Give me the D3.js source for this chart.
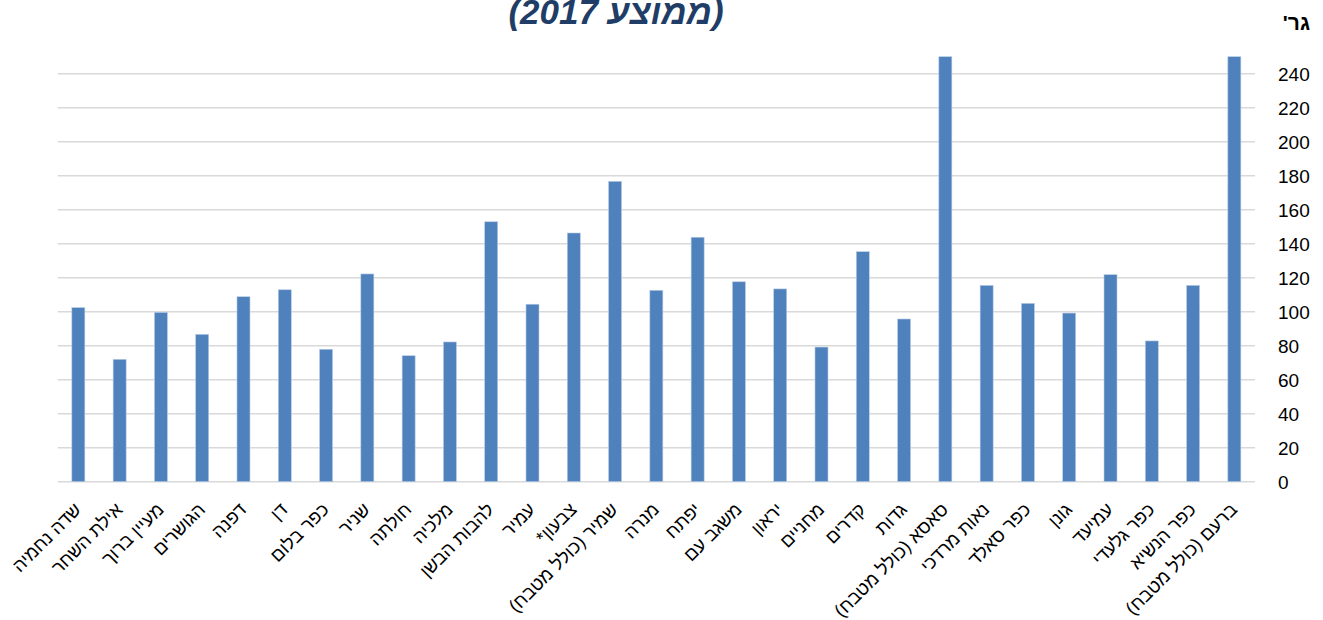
<!DOCTYPE html>
<html lang="he">
<head>
<meta charset="utf-8">
<script src="https://cdn.jsdelivr.net/npm/d3@7"></script>
<style>
  body { margin: 0; background: #fff; position: relative; }
  svg { display: block; }
</style>
</head>
<body>
<svg id="chart"></svg>
<script>
const categories = [
  "שדה נחמיה", "אילת השחר", "מעיין ברוך", "הגושרים", "דפנה", "דן", "כפר בלום",
  "שניר", "חולתה", "מלכיה", "להבות הבשן", "עמיר", "צבעון*", "שמיר (כולל מטבח)",
  "מנרה", "יפתח", "משגב עם", "יראון", "מחניים", "קדרים", "גדות",
  "סאסא (כולל מטבח)", "נאות מרדכי", "כפר סאלד", "גונן", "עמיעד", "כפר גלעדי",
  "כפר הנשיא", "ברעם (כולל מטבח)"
];
const values = [
  102.4, 72, 99.6, 86.7, 108.8, 112.9, 77.9,
  122.2, 74.1, 82.2, 152.9, 104.4, 146.3, 176.7,
  112.6, 143.8, 117.6, 113.4, 79.2, 135.3, 95.7,
  250, 115.5, 104.9, 99.2, 121.8, 82.8,
  115.5, 250
];
const yTicks = [0, 20, 40, 60, 80, 100, 120, 140, 160, 180, 200, 220, 240];
const title = "(ממוצע 2017)";
const unitLabel = "גר'";

const W = 1323, H = 620;
const margin = { top: 56.7, bottom: 138.3, left: 57.7, right: 68 };

const svg = d3.select("#chart").attr("width", W).attr("height", H);

const x = d3.scaleBand()
  .domain(categories)
  .range([margin.left, W - margin.right])
  .paddingInner(0.685)
  .paddingOuter(0.3425);

const y = d3.scaleLinear()
  .domain([0, 250])
  .range([H - margin.bottom, margin.top]);

// gridlines
svg.append("g")
  .selectAll("line")
  .data(yTicks)
  .join("line")
  .attr("x1", margin.left)
  .attr("x2", W - margin.right)
  .attr("y1", (d) => y(d))
  .attr("y2", (d) => y(d))
  .attr("stroke", "#d9d9d9")
  .attr("stroke-width", 1.6);

// bars
svg.append("g")
  .selectAll("rect")
  .data(values)
  .join("rect")
  .attr("x", (d, i) => x(categories[i]))
  .attr("y", (d) => y(d))
  .attr("width", x.bandwidth())
  .attr("height", (d) => y(0) - y(d))
  .attr("fill", "#4f81bd")
  .attr("stroke", "#b9cde5")
  .attr("stroke-width", 0.6);

// right axis labels
svg.append("g")
  .selectAll("text")
  .data(yTicks)
  .join("text")
  .attr("x", W - margin.right + 23)
  .attr("y", (d) => y(d))
  .attr("dy", "0.36em")
  .attr("font-family", "Liberation Sans, Arial, sans-serif")
  .attr("font-size", 19)
  .attr("fill", "#000")
  .text((d) => d);

// category labels
svg.append("g")
  .selectAll("text")
  .data(categories)
  .join("text")
  .attr("transform", (d) => `translate(${x(d) + x.bandwidth() / 2 + 4}, ${y(0) + 29}) rotate(-45)`)
  .attr("direction", "rtl")
  .attr("text-anchor", "start")
  .attr("font-family", "Liberation Sans, Arial, sans-serif")
  .attr("font-size", 18.5)
  .attr("fill", "#000")
  .text((d) => d);

// title
svg.append("text")
  .attr("x", 616)
  .attr("y", 24)
  .attr("direction", "rtl")
  .attr("text-anchor", "middle")
  .attr("font-family", "Liberation Sans, Arial, sans-serif")
  .attr("font-size", 35)
  .attr("font-weight", "bold")
  .attr("font-style", "italic")
  .attr("fill", "#1f3d66")
  .text(title);

// unit label
svg.append("text")
  .attr("x", 1310)
  .attr("y", 30)
  .attr("direction", "rtl")
  .attr("text-anchor", "start")
  .attr("font-family", "Liberation Sans, Arial, sans-serif")
  .attr("font-size", 21)
  .attr("font-weight", "bold")
  .attr("fill", "#000")
  .text(unitLabel);
</script>
</body>
</html>
